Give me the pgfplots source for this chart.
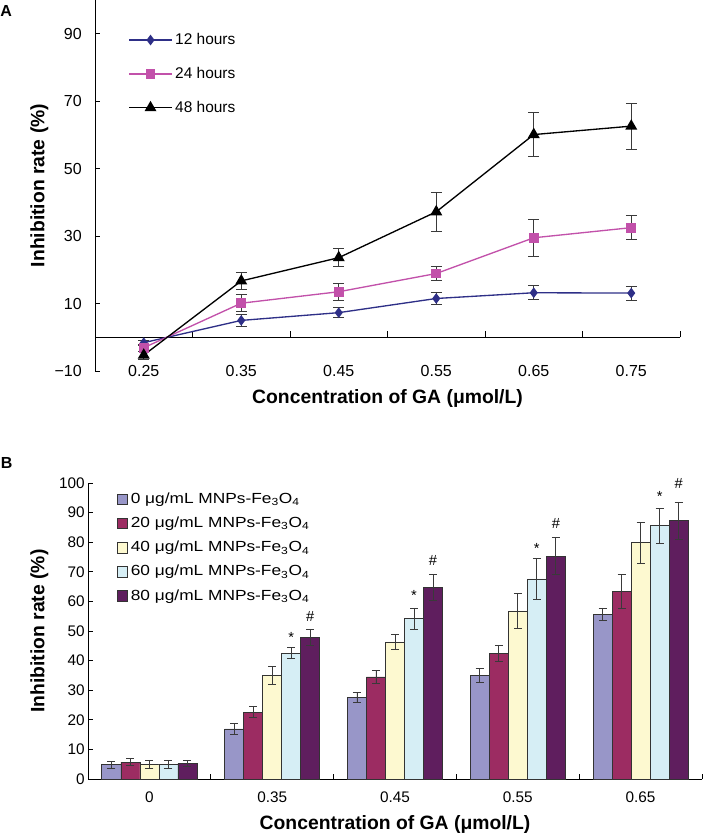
\documentclass[border=0pt]{standalone}
\usepackage{fontspec}
\setmainfont{Liberation Sans}
\newfontfamily\legB[FakeStretch=1.18]{Liberation Sans}
\usepackage{pgfplots}
\pgfplotsset{compat=1.18}

\definecolor{h12}{HTML}{2E2F87}
\definecolor{h24}{HTML}{C251AA}
\definecolor{errgray}{HTML}{3A3A3A}
\definecolor{b0}{HTML}{9896C8}
\definecolor{b20}{HTML}{9C2C62}
\definecolor{b40}{HTML}{FDF9D0}
\definecolor{b60}{HTML}{D6EEF5}
\definecolor{b80}{HTML}{5F1E5E}

\pgfplotsset{
  common/.style={
    scale only axis,
    axis line style={line width=0.7pt},
    tick style={line width=0.7pt, black},
    /pgf/number format/assume math mode=true,
    label style={font=\bfseries\fontsize{14.5}{17}\selectfont},
    clip=false,
  },
  errA/.style={error bars/.cd, y dir=both, y explicit,
    error bar style={errgray, line width=0.7pt},
    error mark options={errgray, rotate=90, mark size=4pt, line width=0.7pt}},
  errB/.style={error bars/.cd, y dir=both, y explicit,
    error bar style={errgray, line width=0.6pt},
    error mark options={errgray, rotate=90, mark size=3pt, line width=0.6pt}},
}

\begin{document}
\begin{tikzpicture}
\path[use as bounding box] (0pt,0pt) rectangle (527.25pt,-627.75pt);

% ---------- panel A ----------
\node[font=\bfseries\fontsize{12}{14}\selectfont] at (4.6pt,-8.5pt) {A};
\begin{axis}[common,
  at={(71.25pt,-278.25pt)}, anchor=south west,
  width=438.75pt, height=278.25pt,
  xmin=-0.5, xmax=5.5, ymin=-10, ymax=100,
  axis y line*=left, axis x line*=bottom,
  x axis line style={draw=none},
  xtick={0,...,5},
  xticklabels={0.25,0.35,0.45,0.55,0.65,0.75},
  major x tick style={draw=none},
  ytick={-10,10,30,50,70,90},
  yticklabels={−10,10,30,50,70,90},
  major tick length=3.75pt,
  ticklabel style={font=\fontsize{12}{14}\selectfont},
  xticklabel style={anchor=center, inner sep=0pt},
  yticklabel style={anchor=east, inner sep=0pt, xshift=-9.75pt},
  xlabel={Concentration of GA (μmol/L)},
  ylabel={Inhibition rate (\%)},
  xlabel style={at={(axis description cs:0.5,-0.073)}, anchor=center},
  ylabel style={at={(axis description cs:-0.095,0.5)}, anchor=center},
  legend style={at={(axis description cs:0.05,0.925)}, anchor=north west,
    draw=none, fill=none, font=\fontsize{11.6}{14}\selectfont,
    row sep=11.5pt, /tikz/every even column/.append style={column sep=4pt}},
  legend cell align=left,
  legend image code/.code={\draw[mark repeat=2,mark phase=2,#1]
    plot coordinates {(0pt,0pt) (16pt,0pt) (32pt,0pt)};},
  tick align=inside,
]
\draw[line width=0.7pt] (axis cs:-0.5,0) -- (axis cs:5.5,0);
\pgfplotsinvokeforeach{0.5,1.5,2.5,3.5,4.5,5.5}{
  \draw[line width=0.7pt] (axis cs:#1,0) -- ++(0pt,4.5pt);
}
\addplot[h12, line width=1pt, mark=diamond*, mark size=3.2pt, errA]
  coordinates {(0,-1.6) +- (0,0.8) (1,5.0) +- (0,1.7) (2,7.3) +- (0,1.5)
               (3,11.5) +- (0,1.7) (4,13.2) +- (0,2.1) (5,13.1) +- (0,2.1)};
\addplot[h24, line width=1pt, mark=square*, mark size=3.2pt, errA]
  coordinates {(0,-3.1) +- (0,1.0) (1,10.1) +- (0,2.5) (2,13.5) +- (0,2.5)
               (3,18.9) +- (0,2.1) (4,29.5) +- (0,5.4) (5,32.5) +- (0,3.6)};
\addplot[black, line width=1pt, mark=triangle*, mark size=4.2pt, errA]
  coordinates {(0,-5.3) +- (0,1.2) (1,16.7) +- (0,2.5) (2,23.6) +- (0,2.7)
               (3,37.2) +- (0,5.8) (4,60.1) +- (0,6.6) (5,62.6) +- (0,6.8)};
\legend{12 hours, 24 hours, 48 hours}
\end{axis}

% ---------- panel B ----------
\node[font=\bfseries\fontsize{12}{14}\selectfont] at (5pt,-347.25pt) {B};
\begin{axis}[common,
  at={(66pt,-584.25pt)}, anchor=south west,
  width=460.5pt, height=222pt,
  xmin=-0.5, xmax=4.5, ymin=0, ymax=100,
  axis y line*=left, axis x line*=bottom,
  ybar=0pt, bar width=0.155,
  xtick={0,...,4},
  xticklabels={0,0.35,0.45,0.55,0.65},
  minor xtick={0.5,1.5,2.5,3.5,4.5},
  major x tick style={draw=none},
  ytick={0,10,...,100},
  major tick length=4pt, minor tick length=3.75pt,
  ticklabel style={font=\fontsize{11.5}{14}\selectfont},
  xticklabel style={anchor=center, inner sep=0pt, yshift=-13.5pt},
  yticklabel style={anchor=east, inner sep=0pt, xshift=-2.25pt},
  xlabel={Concentration of GA (μmol/L)},
  ylabel={Inhibition rate (\%)},
  xlabel style={at={(axis description cs:0.5,-0.155)}, anchor=center},
  ylabel style={at={(axis description cs:-0.079,0.5)}, anchor=center},
  legend style={at={(axis description cs:0.04,0.985)}, anchor=north west,
    draw=none, fill=none, font=\legB\fontsize{11}{13}\selectfont,
    row sep=4.6pt},
  legend cell align=left,
  legend image code/.code={\draw[#1, draw=black!80, line width=0.5pt]
    (0pt,-4pt) rectangle (8pt,4pt);},
  tick align=inside,
]
\addplot[fill=b0, draw=black!80, line width=0.5pt, errB]
  coordinates {(0,4.8) +- (0,1.1) (1,16.9) +- (0,1.8) (2,27.5) +- (0,1.7)
               (3,35.1) +- (0,2.4) (4,55.7) +- (0,2.1)};
\addplot[fill=b20, draw=black!80, line width=0.5pt, errB]
  coordinates {(0,5.7) +- (0,1.2) (1,22.6) +- (0,1.9) (2,34.5) +- (0,2.2)
               (3,42.5) +- (0,2.8) (4,63.4) +- (0,5.6)};
\addplot[fill=b40, draw=black!80, line width=0.5pt, errB]
  coordinates {(0,5.0) +- (0,1.3) (1,35.0) +- (0,2.9) (2,46.3) +- (0,2.5)
               (3,56.8) +- (0,5.9) (4,79.8) +- (0,6.8)};
\addplot[fill=b60, draw=black!80, line width=0.5pt, errB]
  coordinates {(0,5.0) +- (0,1.3) (1,42.5) +- (0,1.9) (2,54.2) +- (0,3.6)
               (3,67.6) +- (0,7.0) (4,85.6) +- (0,5.9)};
\addplot[fill=b80, draw=black!80, line width=0.5pt, errB]
  coordinates {(0,5.3) +- (0,1.1) (1,47.9) +- (0,2.8) (2,64.8) +- (0,4.4)
               (3,75.3) +- (0,6.2) (4,87.3) +- (0,6.3)};
\legend{0 μg/mL MNPs-Fe\textsubscript{3}O\textsubscript{4},
        20 μg/mL MNPs-Fe\textsubscript{3}O\textsubscript{4},
        40 μg/mL MNPs-Fe\textsubscript{3}O\textsubscript{4},
        60 μg/mL MNPs-Fe\textsubscript{3}O\textsubscript{4},
        80 μg/mL MNPs-Fe\textsubscript{3}O\textsubscript{4}}
\end{axis}

% significance marks of panel B
\begin{axis}[
  at={(66pt,-584.25pt)}, anchor=south west,
  width=460.5pt, height=222pt, scale only axis,
  xmin=-0.5, xmax=4.5, ymin=0, ymax=100,
  hide axis, clip=false,
]
\addplot[draw=none, mark=none, nodes near coords, point meta=explicit symbolic,
  nodes near coords style={anchor=center, font=\fontsize{11}{13}\selectfont}]
  coordinates {(1.155,47.7) [*] (2.155,61.9) [*] (3.155,78.0) [*] (4.155,95.3) [*]
               (1.31,54.8) [\#] (2.31,73.9) [\#] (3.31,86.4) [\#] (4.31,99.9) [\#]};
\end{axis}
\end{tikzpicture}
\end{document}
